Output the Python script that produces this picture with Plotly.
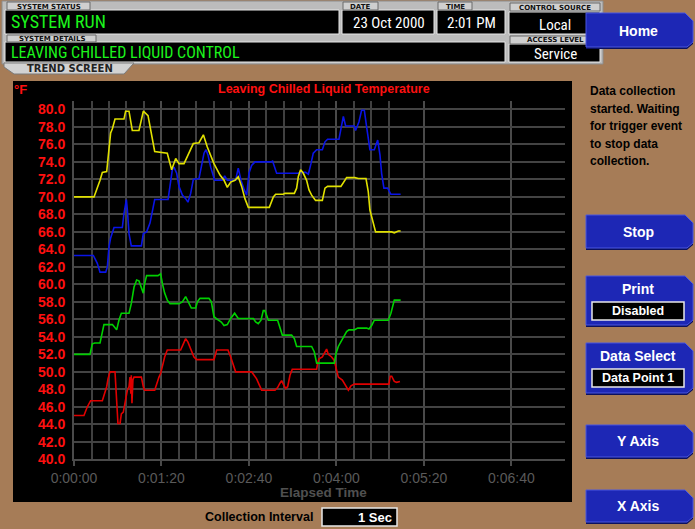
import plotly.graph_objects as go

# ---------------- data (elapsed seconds, degF) ----------------
yellow_t = [0, 18.3, 23.8, 25.9, 29.9, 31.1, 33.5, 35.1, 37.5, 45.7, 47.2, 50.3, 53.3, 59.4, 63.4, 67.7, 70.7, 73.8,
            85.3, 89.3, 93.0, 96.0, 100.6, 104.2, 109.1, 114.3, 118.3, 121.9, 128.0, 133.5, 137.2, 140.2, 143.3,
            147.2, 150.2, 153.3, 156.3, 159.4, 178.6, 182.3, 184.4, 191.4, 192.9, 201.5, 203.6, 205.1, 207.2,
            209.7, 212.7, 214.9, 217.3, 220.9, 227.1, 229.5, 231.9, 244.1, 246.3, 249.3, 256.9, 260.0, 267.0,
            269.1, 270.6, 272.8, 275.8, 290.5, 292.9, 296.6, 298.7]
yellow_v = [70.0, 70.0, 71.9, 72.8, 72.9, 74.2, 77.3, 77.8, 78.9, 78.9, 79.8, 79.8, 77.6, 77.6, 79.8, 79.3, 77.3, 75.2,
            75.0, 73.1, 74.4, 73.8, 73.8, 74.8, 76.1, 76.2, 77.1, 75.7, 73.8, 72.5, 71.9, 71.1, 71.7,
            71.9, 72.3, 71.2, 69.8, 68.8, 68.8, 70.0, 70.3, 70.3, 70.4, 70.4, 71.0, 72.3, 73.1,
            72.7, 71.9, 70.8, 70.2, 69.6, 69.6, 71.0, 71.2, 71.2, 71.6, 72.2, 72.2, 72.1, 72.1,
            70.6, 68.5, 67.5, 66.0, 66.0, 65.9, 66.1, 66.1]

blue_t = [0, 17.7, 21.3, 23.8, 29.0, 30.5, 32.0, 33.5, 36.6, 44.2, 45.7, 47.9, 48.8, 50.3, 52.4, 61.6, 63.4, 66.4,
          69.5, 71.6, 73.8, 86.0, 87.8, 89.9, 91.4, 93.9, 96.0, 99.1, 102.1, 104.2, 106.7, 109.1, 114.3, 116.4,
          118.9, 120.7, 122.5, 125.0, 128.6, 135.6, 137.8, 140.2, 147.8, 150.2, 152.7, 155.7, 157.9, 160.0,
          162.4, 165.5, 180.1, 181.6, 183.8, 185.3, 205.1, 206.6, 211.8, 214.3, 216.7, 218.8, 221.9, 227.1,
          229.5, 231.9, 242.3, 244.1, 246.3, 248.4, 256.3, 257.5, 260.6, 263.0, 265.5, 267.6, 269.1, 270.6,
          274.6, 277.7, 279.8, 281.3, 283.4, 286.8, 289.8, 298.7]
blue_v = [63.3, 63.3, 62.4, 61.4, 61.4, 62.0, 64.3, 65.3, 66.5, 66.5, 68.1, 69.7, 68.5, 65.8, 64.4, 64.4, 65.8, 66.0,
          67.0, 68.5, 69.7, 69.7, 71.2, 73.1, 73.4, 72.7, 71.2, 70.2, 69.8, 69.4, 70.4, 72.0, 72.1, 73.4,
          75.0, 75.4, 74.8, 73.4, 71.9, 71.9, 72.4, 71.9, 71.9, 73.3, 71.9, 70.8, 70.2, 72.7,
          73.6, 74.0, 74.0, 74.1, 73.3, 72.7, 72.7, 72.8, 72.8, 72.6, 73.8, 75.0, 75.4, 75.4,
          76.3, 76.6, 76.6, 77.8, 79.2, 78.1, 78.1, 77.6, 78.6, 79.9, 79.9, 78.0, 76.5, 75.4,
          75.4, 76.5, 74.8, 72.7, 71.0, 71.0, 70.3, 70.3]

green_t = [0, 14.6, 16.8, 18.9, 23.8, 25.9, 27.4, 35.1, 37.2, 39.0, 41.1, 43.3, 50.3, 52.4, 54.9, 57.3, 59.4, 61.6,
           63.4, 64.6, 66.4, 76.8, 79.2, 80.8, 82.9, 85.3, 87.8, 96.0, 99.1, 102.1, 104.2, 107.3, 111.3, 112.8,
           115.2, 123.4, 125.6, 128.0, 131.1, 134.7, 137.2, 140.2, 143.3, 146.9, 150.2, 164.0, 166.1, 168.5,
           171.0, 173.1, 174.6, 176.8, 177.7, 186.2, 188.3, 190.5, 199.0, 201.5, 203.6, 217.3, 219.7, 221.9,
           238.0, 239.6, 241.7, 244.7, 249.3, 251.4, 256.3, 259.4, 267.6, 269.7, 272.2, 274.6, 287.4, 289.8,
           291.4, 292.9, 298.7]
green_v = [52.0, 52.0, 53.2, 53.3, 53.3, 54.6, 55.4, 55.4, 55.1, 54.8, 55.9, 56.7, 56.7, 57.8, 59.7, 60.5, 60.4, 59.7,
           59.0, 60.1, 61.0, 61.0, 61.2, 60.1, 59.0, 58.2, 57.8, 57.8, 58.0, 58.6, 58.0, 57.3, 57.3, 58.0,
           58.4, 58.4, 58.0, 56.3, 56.0, 55.7, 55.3, 55.4, 56.1, 56.7, 56.1, 56.1, 55.7, 55.5,
           55.9, 57.0, 57.0, 56.0, 55.9, 55.9, 55.1, 54.2, 54.2, 53.8, 52.9, 52.9, 52.3, 51.0,
           51.0, 52.1, 52.9, 53.6, 54.6, 54.8, 54.8, 55.0, 55.0, 54.9, 55.3, 55.9, 55.9, 56.7,
           57.4, 58.2, 58.2]

red_t = [0, 9.1, 12.2, 15.2, 25.9, 28.0, 29.9, 31.1, 32.9, 37.5, 38.1, 39.0, 40.2, 42.1, 43.3, 45.1, 47.2, 48.8,
         50.3, 51.2, 52.0, 52.4, 53.0, 53.9, 54.9, 61.6, 63.4, 64.6, 73.8, 75.6, 77.7, 79.2, 80.8, 82.9, 85.3,
         97.5, 100.0, 102.1, 104.2, 107.3, 109.7, 112.2, 128.0, 130.5, 140.8, 143.3, 145.7, 147.8, 162.4, 164.9,
         167.0, 169.1, 171.6, 183.8, 186.2, 188.3, 189.9, 191.4, 193.5, 195.4, 197.5, 199.6, 221.9, 222.8,
         224.0, 227.1, 228.9, 231.0, 232.5, 235.6, 238.0, 240.2, 241.7, 245.4, 247.8, 250.9, 253.3, 256.3,
         288.0, 289.2, 290.5, 292.9, 295.0, 298.1]
red_v = [45.0, 45.0, 46.0, 46.7, 46.7, 47.5, 48.3, 49.2, 50.0, 50.0, 48.3, 46.0, 44.1, 44.1, 45.2, 45.4, 46.8, 47.9,
         48.3, 49.4, 47.5, 49.6, 46.4, 49.1, 49.4, 49.4, 48.3, 47.9, 47.9, 48.7, 49.4, 49.8, 50.8, 51.7, 52.5,
         52.5, 53.2, 53.8, 53.4, 52.5, 51.7, 51.4, 51.4, 52.5, 52.5, 51.7, 50.9, 50.0, 50.0, 49.6,
         49.2, 48.6, 47.9, 47.9, 48.2, 48.7, 49.0, 48.6, 48.1, 48.3, 49.6, 50.3, 50.3, 51.0,
         51.5, 51.7, 52.1, 52.6, 52.0, 51.7, 51.3, 50.2, 49.4, 49.05, 48.5, 47.9, 48.4, 48.6,
         48.6, 49.5, 49.5, 48.9, 48.8, 48.9]

x_tick_vals = [0, 80, 160, 240, 320, 400]
x_tick_text = ["0:00:00", "0:01:20", "0:02:40", "0:04:00", "0:05:20", "0:06:40"]
x_minor_vals = [16, 32, 48, 64, 96, 112, 128, 144, 176, 192, 208, 224, 256, 272, 288]

# ---------------- layout helpers (pixel -> paper) ----------------
W, H = 695, 529
BROWN = "#a67c57"
BLUE = "#1d27b5"


def px(x):
    return x / W


def py(y):
    return 1 - y / H


shapes = []
annotations = []


def rect(x0, y0, x1, y1, fill, line="rgba(0,0,0,0)", lw=0):
    shapes.append(dict(type="rect", xref="paper", yref="paper", layer="below",
                       x0=px(x0), x1=px(x1), y0=py(y1), y1=py(y0),
                       fillcolor=fill, line=dict(color=line, width=lw)))


def poly(pts, fill, line="rgba(0,0,0,0)", lw=0):
    d = "M " + " L ".join(f"{px(a):.5f},{py(b):.5f}" for a, b in pts) + " Z"
    shapes.append(dict(type="path", xref="paper", yref="paper", layer="below", path=d,
                       fillcolor=fill, line=dict(color=line, width=lw)))


def text(x, y, s, size, color, anchor="center", family="Liberation Sans, Arial, sans-serif", bold=True):
    annotations.append(dict(xref="paper", yref="paper", x=px(x), y=py(y), text=("<b>%s</b>" % s) if bold else s,
                            showarrow=False, xanchor=anchor, yanchor="middle",
                            font=dict(size=size, color=color, family=family)))


NARROW = "Liberation Sans Narrow, Arial Narrow, Roboto Condensed, sans-serif"

# ---------------- header ----------------
rect(2, 1, 603, 64, "#bcbcbc", "#8c8c8c", 1)
for (x0, y0, x1, y1) in [(5, 10, 339, 34), (342, 10, 434, 34), (437, 10, 505, 34), (509, 12, 600, 34),
                         (5, 42, 505, 62), (509, 44, 600, 62)]:
    rect(x0, y0, x1, y1, "black", "#e6e6e6", 1)
for (x0, y0, x1, y1, lab) in [(7, 2, 90, 10, "SYSTEM STATUS"), (343, 2, 378, 10, "DATE"),
                              (438, 2, 472, 10, "TIME"), (510, 3, 600, 11, "CONTROL SOURCE"),
                              (7, 35, 96, 42, "SYSTEM DETAILS"), (510, 36, 600, 44, "ACCESS LEVEL")]:
    rect(x0, y0, x1, y1, "#cfcfcf", "#6a6a6a", 1)
    text((x0 + x1) / 2, (y0 + y1) / 2 + 0.5, lab, 7, "#111111", family="DejaVu Sans, sans-serif")
poly([(4, 63), (134, 63), (124, 74), (14, 74), (4, 67)], "#d2d2d2", "#7a7a7a", 1)
text(70, 68.5, "TREND SCREEN", 10, "#222222", family="DejaVu Sans, sans-serif")

text(9, 22, "SYSTEM RUN", 18, "#1cf51c", "left", NARROW, bold=False)
text(9, 53, "LEAVING CHILLED LIQUID CONTROL", 16, "#1cf51c", "left", NARROW, bold=False)
text(389, 23, "23 Oct 2000", 15, "white", family=NARROW, bold=False)
text(471, 23, "2:01 PM", 15, "white", family=NARROW, bold=False)
text(555, 25, "Local", 15, "white", family=NARROW, bold=False)
text(555, 54, "Service", 15, "white", family=NARROW, bold=False)


# ---------------- buttons on the right ----------------
def button(y0, y1, label, label_y, sub=None, sub_y=None):
    x0, x1 = 586, 693
    poly([(x0, y0 + 2), (x1 - 8, y0 + 2), (x1, y0 + 10), (x1, y1 - 4), (x1 - 6, y1 + 1), (x0, y1 + 1)], "#0b1060")
    poly([(x0, y0), (x1 - 8, y0), (x1, y0 + 8), (x1, y1 - 6), (x1 - 6, y1 - 1), (x0, y1 - 1)], BLUE, "#4a56e0", 1)
    text(638, label_y, label, 14, "white")
    if sub:
        rect(592, sub_y - 9, 684, sub_y + 9, "black", "#e8e8e8", 1.5)
        text(638, sub_y, sub, 12.5, "white")


button(13, 48, "Home", 31)
button(215, 249, "Stop", 232)
button(276, 326, "Print", 289, "Disabled", 311)
button(343, 394, "Data Select", 356, "Data Point 1", 378)
button(425, 458, "Y Axis", 441)
button(490, 523, "X Axis", 506)

for i, line in enumerate(["Data collection", "started. Waiting", "for trigger event", "to stop data", "collection."]):
    text(588, 91 + i * 17.6, line, 12, "black", "left")

# ---------------- chart panel ----------------
rect(13, 81, 572, 502, "black")
text(20, 89, "°F", 13, "#ff1010")
text(323.5, 89, "Leaving Chilled Liquid Temperature", 12.5, "#ff1010")
text(323, 492, "Elapsed Time", 13.5, "#505050")

# collection interval
text(203, 517, "Collection Interval", 12.5, "black", "left")
rect(322, 508, 397, 526, "black", "#e8e8e8", 1.5)
text(394, 517, "1 Sec", 13, "white", "right")

fig = go.Figure()
for t, v, c in [(red_t, red_v, "#e00000"), (green_t, green_v, "#00d000"),
                (blue_t, blue_v, "#0a14e6"), (yellow_t, yellow_v, "#e0e000")]:
    fig.add_trace(go.Scatter(x=t, y=v, mode="lines", line=dict(color=c, width=1.6), hoverinfo="skip"))

GRID = "#4a4a4a"
fig.update_layout(
    width=W, height=H, margin=dict(l=0, r=0, t=0, b=0, pad=0, autoexpand=False),
    paper_bgcolor=BROWN, plot_bgcolor="black", showlegend=False,
    shapes=shapes, annotations=annotations,
    xaxis=dict(domain=[74 / W, 565 / W], range=[0, 449], tickmode="array", tickvals=x_tick_vals,
               ticktext=x_tick_text, showgrid=True, gridcolor=GRID, gridwidth=2, zeroline=False,
               showline=True, linecolor=GRID, linewidth=2, automargin=False,
               ticks="outside", ticklen=5, tickwidth=2, tickcolor=GRID,
               tickfont=dict(size=14, color="#5a5a5a", family="Liberation Sans, Arial, sans-serif"),
               minor=dict(tickmode="array", tickvals=x_minor_vals, showgrid=True, gridcolor="#404040",
                          gridwidth=1.5, ticks=""),
               fixedrange=True),
    yaxis=dict(domain=[1 - 459.3 / H, 1 - 100.7 / H], range=[40, 81], tick0=40, dtick=2, tickformat=".1f",
               showgrid=True, gridcolor="#434343", gridwidth=1.5, zeroline=False,
               showline=True, linecolor=GRID, linewidth=2, automargin=False,
               ticks="outside", ticklen=4, tickcolor="black",
               tickfont=dict(size=14, color="#ff1010", family="Liberation Sans, Arial, sans-serif", weight="bold"),
               fixedrange=True),
)

fig.write_html("out.html", config={"displayModeBar": False},
               post_script="document.body.style.margin='0px';document.body.style.overflow='hidden';")
